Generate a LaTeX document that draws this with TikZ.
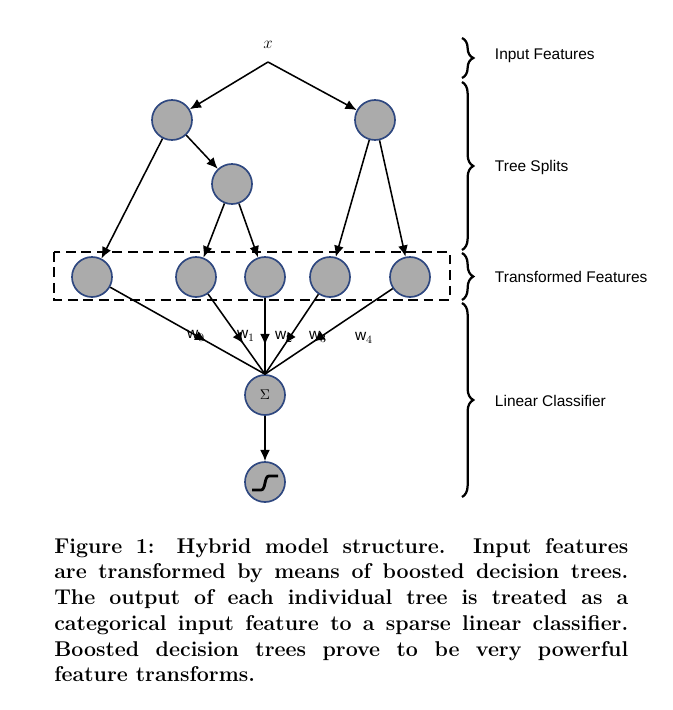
\documentclass[tikz,border=0pt]{standalone}
\usepackage{fontspec}
\newfontfamily\labelfont{Liberation Sans}
\usetikzlibrary{calc,arrows.meta,decorations.markings,decorations.pathreplacing}
\definecolor{nodegray}{RGB}{171,171,171}
\definecolor{ringblue}{RGB}{47,72,128}
\newlength{\pxu}\setlength{\pxu}{0.025cm}
\tikzset{
  unit/.style={circle,draw=ringblue,fill=nodegray,line width=1.2pt,minimum size=40\pxu,inner sep=0pt},
  edge/.style={-{Latex[length=8pt,width=7pt]},line width=1.1pt},
  midarrow/.style={line width=1.1pt,decoration={markings,mark=at position #1 with {\arrow{Latex[length=8pt,width=7pt]}}},postaction={decorate}},
  layerbrace/.style={decorate,decoration={brace,amplitude=8pt},line width=1.6pt},
  layerlabel/.style={anchor=west,font=\labelfont\fontsize{11}{13}\selectfont},
  wlabel/.style={font=\labelfont\fontsize{11}{13}\selectfont}
}
\begin{document}
\begin{tikzpicture}[x=0.025cm,y=-0.025cm]
    \useasboundingbox (0,0) rectangle (672,710);
    \node [font=\large] (x) at (268,45) {$x$};
    \coordinate (xs) at (268,62);
    \node [unit] (r1) at (172,120) {};
    \node [unit] (r2) at (375,120) {};
    \node [unit] (m) at (232,184) {};
    \node [unit] (l0) at (92,277) {};
    \node [unit] (l1) at (196,277) {};
    \node [unit] (l2) at (265,277) {};
    \node [unit] (l3) at (330,277) {};
    \node [unit] (l4) at (410,277) {};
    \node [unit] (sum) at (265,395) {$\Sigma$};
    \node [unit] (sig) at (265,482) {};
    % sigmoid glyph
    \draw [line width=2pt] ($(sig)+(-13,8)$) -- ($(sig)+(-4,8)$) .. controls ($(sig)+(1,8)$) and ($(sig)+(-1,-6)$) .. ($(sig)+(4,-6)$) -- ($(sig)+(13,-6)$);
    % tree edges
    \draw [edge] (xs) -- (r1);
    \draw [edge] (xs) -- (r2);
    \draw [edge] (r1) -- (l0);
    \draw [edge] (r1) -- (m);
    \draw [edge] (m) -- (l1);
    \draw [edge] (m) -- (l2);
    \draw [edge] (r2) -- (l3);
    \draw [edge] (r2) -- (l4);
    % weighted edges
    \draw [midarrow=0.62] (l0) -- (sum.north);
    \draw [midarrow=0.62] (l1) -- (sum.north);
    \draw [midarrow=0.62] (l2) -- (sum.north);
    \draw [midarrow=0.62] (l3) -- (sum.north);
    \draw [midarrow=0.62] (l4) -- (sum.north);
    \draw [edge] (sum) -- (sig);
    \node [wlabel] at (196,336) {w$_0$};
    \node [wlabel] at (246,336) {w$_1$};
    \node [wlabel] at (284,337) {w$_2$};
    \node [wlabel] at (318,337) {w$_3$};
    \node [wlabel] at (364,338) {w$_4$};
    % feature box
    \draw [line width=1.4pt,dash pattern=on 7pt off 4pt] (54,252) rectangle (450,300);
    % layer braces
    \draw [layerbrace] (462,38) -- (462,78);
    \draw [layerbrace] (462,82) -- (462,250);
    \draw [layerbrace] (462,253) -- (462,300);
    \draw [layerbrace] (462,303) -- (462,497);
    \node [layerlabel] at (490,56) {Input Features};
    \node [layerlabel] at (490,167) {Tree Splits};
    \node [layerlabel] at (490,277) {Transformed Features};
    \node [layerlabel] at (490,401) {Linear Classifier};
    % caption
    \node [anchor=north west,inner sep=0pt,text width=574\pxu,align=justify,font=\bfseries\fontsize{15.2}{18.3}\selectfont] at (54,538)
      {Figure 1: Hybrid model structure. Input features\linebreak
       are transformed by means of boosted decision trees.\linebreak
       The output of each individual tree is treated as a\linebreak
       categorical input feature to a sparse linear classifier.\linebreak
       Boosted decision trees prove to be very powerful\linebreak
       feature transforms.};
\end{tikzpicture}
\end{document}
